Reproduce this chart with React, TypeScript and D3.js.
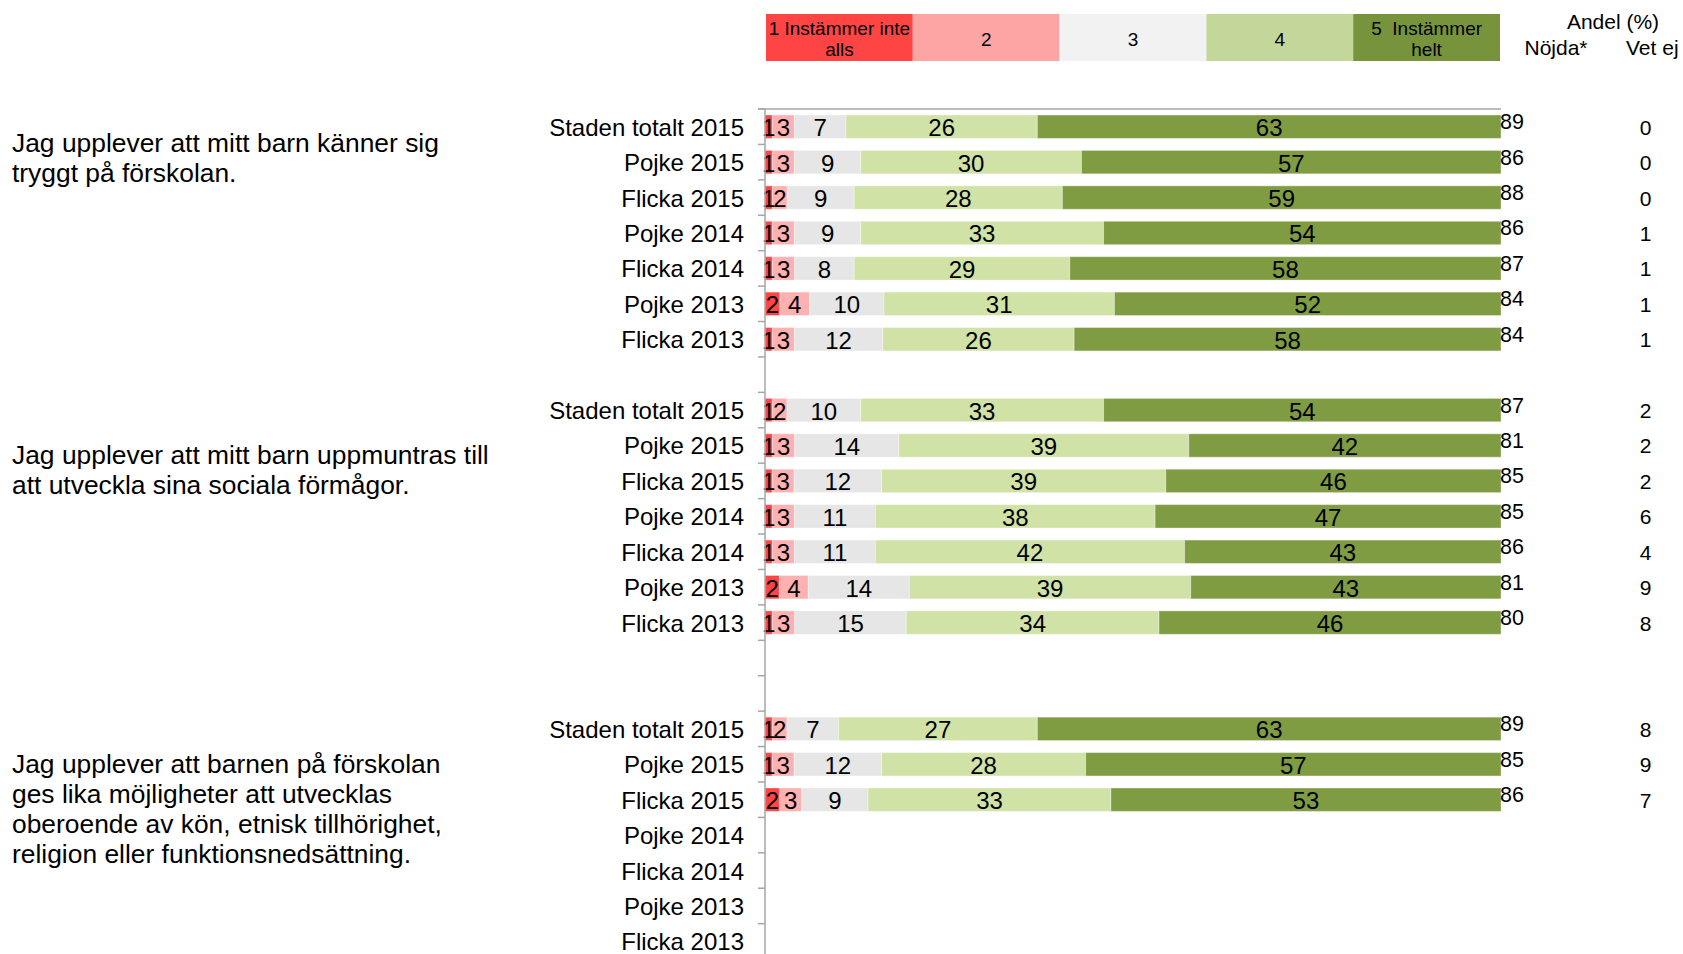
import React from "react";
import * as d3 from "d3";

// Svarsalternativ (legend)
const responseLabels: string[][] = [
  ["1 Instämmer inte", "alls"],
  ["2"],
  ["3"],
  ["4"],
  ["5  Instämmer", "helt"],
];

const rowLabels = [
  "Staden totalt 2015",
  "Pojke 2015",
  "Flicka 2015",
  "Pojke 2014",
  "Flicka 2014",
  "Pojke 2013",
  "Flicka 2013",
];

const questionTitles: string[][] = [
  ["Jag upplever att mitt barn känner sig", "tryggt på förskolan."],
  ["Jag upplever att mitt barn uppmuntras till", "att utveckla sina sociala förmågor."],
  [
    "Jag upplever att barnen på förskolan",
    "ges lika möjligheter att utvecklas",
    "oberoende av kön, etnisk tillhörighet,",
    "religion eller funktionsnedsättning.",
  ],
];

// andel per svarsalternativ 1..5, en rad per kategori (null = ingen data)
const q1Values: (number[] | null)[] = [
  [1, 3, 7, 26, 63],
  [1, 3, 9, 30, 57],
  [1, 2, 9, 28, 59],
  [1, 3, 9, 33, 54],
  [1, 3, 8, 29, 58],
  [2, 4, 10, 31, 52],
  [1, 3, 12, 26, 58],
];
const q2Values: (number[] | null)[] = [
  [1, 2, 10, 33, 54],
  [1, 3, 14, 39, 42],
  [1, 3, 12, 39, 46],
  [1, 3, 11, 38, 47],
  [1, 3, 11, 42, 43],
  [2, 4, 14, 39, 43],
  [1, 3, 15, 34, 46],
];
const q3Values: (number[] | null)[] = [
  [1, 2, 7, 27, 63],
  [1, 3, 12, 28, 57],
  [2, 3, 9, 33, 53],
  null,
  null,
  null,
  null,
];

const q1Nojda = [89, 86, 88, 86, 87, 84, 84];
const q2Nojda = [87, 81, 85, 85, 86, 81, 80];
const q3Nojda = [89, 85, 86, null, null, null, null];

const q1VetEj = [0, 0, 0, 1, 1, 1, 1];
const q2VetEj = [2, 2, 2, 6, 4, 9, 8];
const q3VetEj = [8, 9, 7, null, null, null, null];

const groupValues = [q1Values, q2Values, q3Values];
const groupNojda = [q1Nojda, q2Nojda, q3Nojda];
const groupVetEj = [q1VetEj, q2VetEj, q3VetEj];
const spacersAfter = [1, 2, 0];

const barColors = ["#FF4545", "#FFB0B0", "#E6E6E6", "#D0E2A6", "#7F9C43"];
const legendColors = ["#FF4444", "#FDA5A5", "#F2F2F2", "#C4D79B", "#77933C"];

const FONT = "'Liberation Sans', Arial, sans-serif";
const W = 1683;
const H = 954;
const axisX = 765;
const barEnd = 1501;
const plotTop = 109;
const rowStep = 35.42;
// baseline offset of each question title relative to its first row centre
const titleOffsets = [25, 54, 44];

type Slot = {
  label: string | null;
  values: number[] | null;
  nojda: number | null;
  vetEj: number | null;
  group: number;
  first: boolean;
};

const slots: Slot[] = [];
groupValues.forEach((vals, g) => {
  rowLabels.forEach((label, i) => {
    slots.push({
      label,
      values: vals[i],
      nojda: groupNojda[g][i],
      vetEj: groupVetEj[g][i],
      group: g,
      first: i === 0,
    });
  });
  for (let s = 0; s < spacersAfter[g]; s++)
    slots.push({ label: null, values: null, nojda: null, vetEj: null, group: g, first: false });
});

const App = () => {
  const n = slots.length;
  const y = d3
    .scaleBand<number>()
    .domain(d3.range(n))
    .range([plotTop, plotTop + n * rowStep])
    .paddingInner(0.34)
    .paddingOuter(0.17);
  const x = d3.scaleLinear().domain([0, 1]).range([axisX, barEnd]);
  const bw = y.bandwidth();
  const center = (i: number) => (y(i) as number) + bw / 2;

  const filled = slots
    .map((s, i) => ({ ...s, idx: i }))
    .filter((s) => s.values);
  const stack = d3
    .stack<(typeof filled)[0], number>()
    .keys([0, 1, 2, 3, 4])
    .value((d, k) => (d.values as number[])[k])
    .offset(d3.stackOffsetExpand);
  const series = stack(filled);

  const legendX = d3
    .scaleBand<number>()
    .domain(d3.range(responseLabels.length))
    .range([766, 1500]);

  const ticks = d3.range(n + 1).map((k) => plotTop + k * y.step());

  return (
    <>
      <style>{`body{margin:0;}`}</style>
      <svg width={W} height={H} style={{ display: "block", fontFamily: FONT }}>
        {/* legend */}
        {responseLabels.map((lines, k) => {
          const lx = legendX(k) as number;
          const cx = lx + legendX.bandwidth() / 2;
          return (
            <g key={k}>
              <rect x={lx} y={14} width={legendX.bandwidth()} height={47} fill={legendColors[k]} />
              {lines.map((t, j) => (
                <text
                  key={j}
                  x={cx}
                  y={lines.length === 1 ? 45.5 : 35 + j * 21}
                  textAnchor="middle"
                  fontSize={19}
                  fill="#000"
                  style={{ whiteSpace: "pre" }}
                >
                  {t}
                </text>
              ))}
            </g>
          );
        })}
        <text x={1613} y={28.5} textAnchor="middle" fontSize={21}>
          Andel (%)
        </text>
        <text x={1556} y={55} textAnchor="middle" fontSize={21}>
          Nöjda*
        </text>
        <text x={1626} y={55} fontSize={21}>
          Vet ej
        </text>

        {/* bars */}
        {series.map((s) => (
          <g key={s.key} fill={barColors[s.key]}>
            {s.map((d) => (
              <rect
                key={d.data.idx}
                x={x(d[0])}
                y={y(d.data.idx)}
                width={x(d[1]) - x(d[0])}
                height={bw}
                stroke="#ffffff"
                strokeOpacity={0.35}
                strokeWidth={1}
              />
            ))}
          </g>
        ))}
        {series.map((s) => (
          <g key={"l" + s.key} fontSize={24} textAnchor="middle">
            {s.map((d) => {
              const v = (d.data.values as number[])[s.key];
              if (!v) return null;
              return (
                <text key={d.data.idx} x={(x(d[0]) + x(d[1])) / 2} y={center(d.data.idx) + 9.5}>
                  {v}
                </text>
              );
            })}
          </g>
        ))}

        {/* axis */}
        <line x1={758} x2={barEnd} y1={plotTop} y2={plotTop} stroke="#A6A6A6" strokeWidth={1.5} />
        <line x1={axisX} x2={axisX} y1={plotTop} y2={H + 20} stroke="#A6A6A6" strokeWidth={1.5} />
        {ticks.map((t, k) => (
          <line key={k} x1={758} x2={axisX} y1={t} y2={t} stroke="#A6A6A6" strokeWidth={1.5} />
        ))}

        {/* row labels and values */}
        {slots.map((s, i) =>
          s.label ? (
            <g key={i}>
              <text x={744} y={center(i) + 9} textAnchor="end" fontSize={24}>
                {s.label}
              </text>
              {s.nojda != null && (
                <text x={1500} y={center(i) + 2.5} fontSize={21.5}>
                  {s.nojda}
                </text>
              )}
              {s.vetEj != null && (
                <text x={1645.5} y={center(i) + 8} textAnchor="middle" fontSize={21}>
                  {s.vetEj}
                </text>
              )}
            </g>
          ) : null
        )}

        {/* question titles */}
        {slots.map((s, i) =>
          s.first ? (
            <text key={"q" + i} fontSize={26.4} x={12}>
              {questionTitles[s.group].map((line, j) => (
                <tspan key={j} x={12} y={center(i) + titleOffsets[s.group] + j * 30}>
                  {line}
                </tspan>
              ))}
            </text>
          ) : null
        )}
      </svg>
    </>
  );
};

export default App;
